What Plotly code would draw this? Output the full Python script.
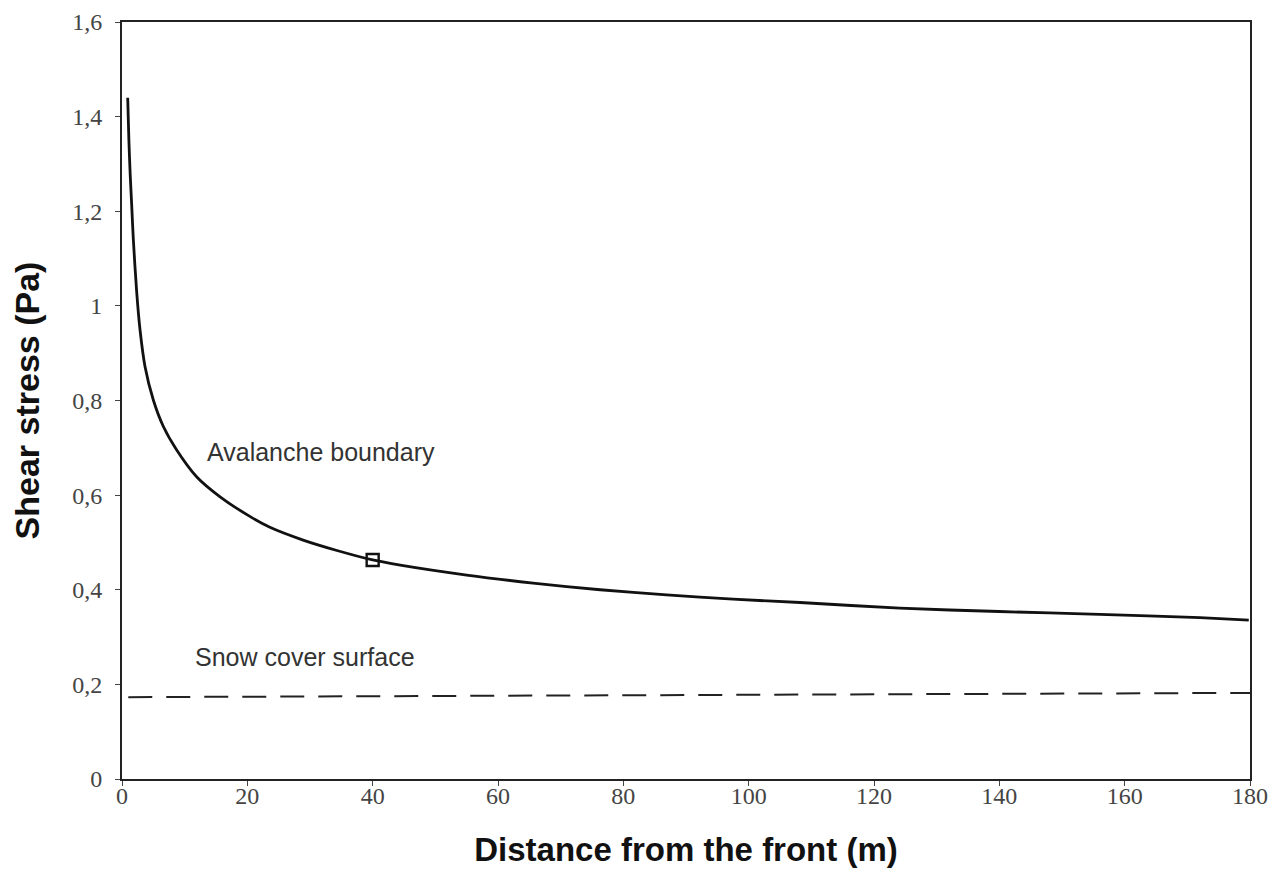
import plotly.graph_objects as go

# Avalanche boundary curve
boundary_x = [0.91, 1.1, 1.3, 1.54, 1.81, 2.34, 2.87, 3.67, 5.0, 6.6, 8.7, 11.9, 15.6, 20.4, 23.6, 28.9, 34.3, 40.0,
              44.4, 55.0, 65.6, 76.3, 86.9, 97.5, 108.2, 124.1, 140.0, 156.0, 172.0, 179.8]
boundary_y = [1.440, 1.350, 1.280, 1.215, 1.140, 1.030, 0.950, 0.872, 0.801, 0.745, 0.696, 0.639, 0.597, 0.555, 0.532, 0.505, 0.483, 0.463,
              0.452, 0.431, 0.414, 0.400, 0.389, 0.380, 0.373, 0.361, 0.354, 0.348, 0.341, 0.336]

# Marked point
marker_x = [40]
marker_y = [0.463]

# Snow cover surface (dashed)
surface_x = [1, 180]
surface_y = [0.173, 0.182]

x_ticks = [0, 20, 40, 60, 80, 100, 120, 140, 160, 180]
y_ticks = [0, 0.2, 0.4, 0.6, 0.8, 1.0, 1.2, 1.4, 1.6]

fig = go.Figure()
fig.add_trace(go.Scatter(x=boundary_x, y=boundary_y, mode="lines",
                         line=dict(color="#111111", width=2.8, shape="spline", smoothing=0.7),
                         showlegend=False))
fig.add_trace(go.Scatter(x=surface_x, y=surface_y, mode="lines",
                         line=dict(color="#222222", width=2, dash="24px,14px"),
                         showlegend=False))
fig.add_trace(go.Scatter(x=marker_x, y=marker_y, mode="markers",
                         marker=dict(symbol="square-open", size=12, color="#111111", line=dict(width=2.4)),
                         showlegend=False))

fig.add_annotation(x=13.3, y=0.691, text="Avalanche boundary", showarrow=False,
                   xanchor="left", yanchor="middle",
                   font=dict(family="Liberation Sans, Arial", size=25, color="#333333"))
fig.add_annotation(x=11.3, y=0.258, text="Snow cover surface", showarrow=False,
                   xanchor="left", yanchor="middle",
                   font=dict(family="Liberation Sans, Arial", size=25, color="#333333"))

axis_common = dict(showline=True, linecolor="#222222", linewidth=2, mirror=True,
                   showgrid=False, zeroline=False, ticks="outside", ticklen=5,
                   tickcolor="#444444", tickwidth=1, automargin=False)

fig.update_layout(
    width=1260, height=874,
    margin=dict(l=114, r=18, t=14, b=103),
    paper_bgcolor="white", plot_bgcolor="white",
    separators=",.",
    xaxis=dict(range=[0, 180], tickvals=x_ticks, ticklabelstandoff=-11,
               tickfont=dict(family="Liberation Serif, Times New Roman", size=24, color="#444444"),
               title=dict(text="<b>Distance from the front (m)</b>", standoff=30,
                          font=dict(family="Liberation Sans, Arial", size=33, color="#111111")),
               **axis_common),
    yaxis=dict(range=[0, 1.6], tickvals=y_ticks, tickformat="~g", ticklabelstandoff=8,
               tickfont=dict(family="Liberation Serif, Times New Roman", size=24, color="#444444"),
               title=dict(text="<b>Shear stress (Pa)</b>", standoff=32,
                          font=dict(family="Liberation Sans, Arial", size=34, color="#111111")),
               **axis_common),
)

fig.write_html("out.html")
